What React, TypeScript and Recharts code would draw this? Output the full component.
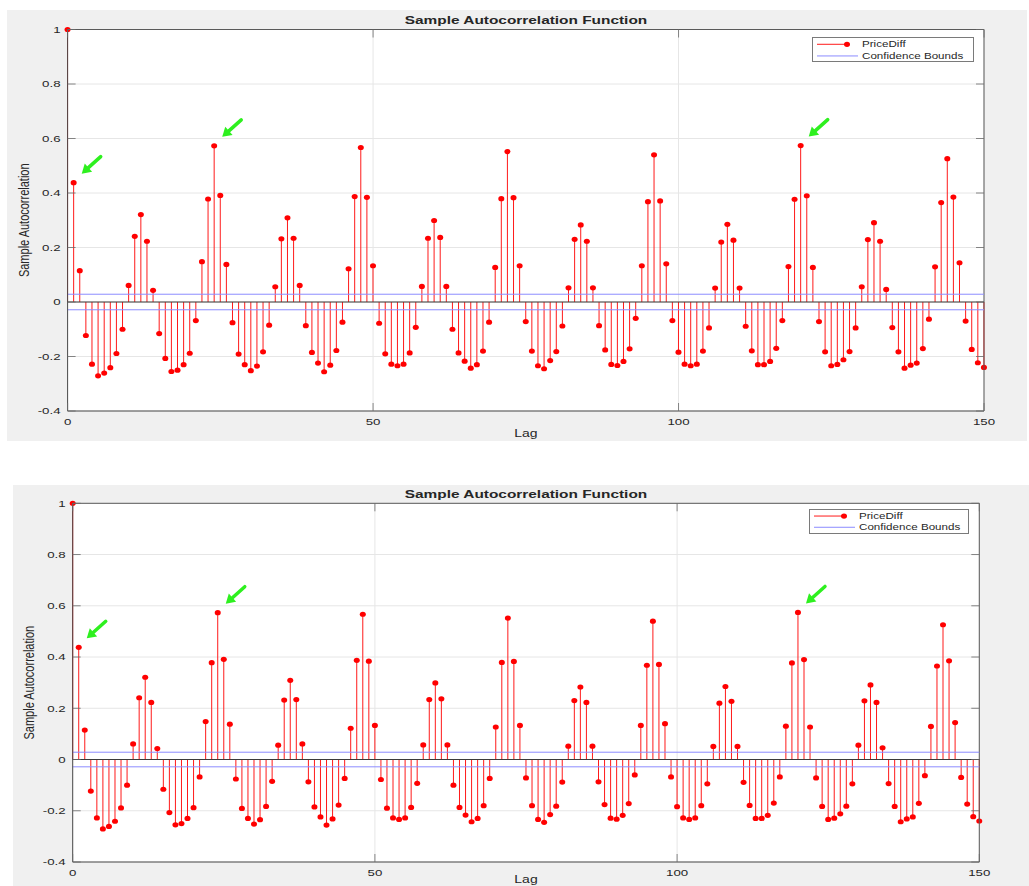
import React from 'react';
import {
  ComposedChart,
  Bar,
  XAxis,
  YAxis,
  CartesianGrid,
  ReferenceLine,
  ReferenceDot,
  Legend,
} from 'recharts';

// ---------- data ----------
const acfValues: number[] = [
  1, 0.438, 0.115, -0.123, -0.228, -0.271, -0.261, -0.241, -0.189, -0.1,
  0.061, 0.241, 0.321, 0.223, 0.043, -0.116, -0.207, -0.255, -0.25, -0.23,
  -0.188, -0.068, 0.148, 0.378, 0.573, 0.391, 0.138, -0.076, -0.191, -0.23,
  -0.252, -0.235, -0.183, -0.085, 0.056, 0.232, 0.309, 0.234, 0.061, -0.087,
  -0.185, -0.224, -0.256, -0.232, -0.178, -0.074, 0.122, 0.387, 0.567, 0.384,
  0.133, -0.078, -0.19, -0.228, -0.234, -0.228, -0.187, -0.093, 0.057, 0.234,
  0.299, 0.237, 0.057, -0.1, -0.187, -0.217, -0.243, -0.23, -0.18, -0.074,
  0.127, 0.379, 0.552, 0.383, 0.133, -0.072, -0.18, -0.234, -0.245, -0.215,
  -0.182, -0.088, 0.052, 0.23, 0.283, 0.223, 0.052, -0.087, -0.176, -0.229,
  -0.233, -0.218, -0.172, -0.06, 0.133, 0.368, 0.54, 0.371, 0.14, -0.068,
  -0.184, -0.228, -0.234, -0.228, -0.18, -0.095, 0.051, 0.22, 0.285, 0.227,
  0.051, -0.089, -0.179, -0.23, -0.23, -0.218, -0.17, -0.068, 0.13, 0.377,
  0.574, 0.39, 0.127, -0.072, -0.183, -0.234, -0.229, -0.212, -0.182, -0.095,
  0.056, 0.229, 0.291, 0.223, 0.046, -0.094, -0.183, -0.243, -0.232, -0.224,
  -0.171, -0.063, 0.129, 0.365, 0.526, 0.385, 0.144, -0.07, -0.174, -0.223,
  -0.24,
];
const lags: number[] = acfValues.map((_, i) => i);
const confidenceBound = 0.0285;
const xTicks = [0, 50, 100, 150];
const xTickLabels = ['0', '50', '100', '150'];
const yTicks = [-0.4, -0.2, 0, 0.2, 0.4, 0.6, 0.8, 1];
const yTickLabels = ['-0.4', '-0.2', '0', '0.2', '0.4', '0.6', '0.8', '1'];
const highlightedLags = [1, 24, 120];

const TITLE = 'Sample Autocorrelation Function';
const X_LABEL = 'Lag';
const Y_LABEL = 'Sample Autocorrelation';
const SERIES_NAME = 'PriceDiff';
const BOUNDS_NAME = 'Confidence Bounds';

const data = lags.map((lag, i) => ({ lag, acf: acfValues[i] }));

// ---------- styles ----------
const FONT = '"Liberation Sans", Arial, Helvetica, sans-serif';
const INK = '#262626';
const SX = 1.4;
const STEM = '#ff1a1a';
const DOT = '#ff0000';
const BOUND = '#8c8cff';
const ARROW = '#2ef01f';
const GRID = '#e6e6e6';
const FIG_BG = '#f0f0f0';
const TICK_LEN = 8;
const X_TICK_MARGIN = 11;
const Y_TICK_MARGIN = 7;

type PanelCfg = {
  left: number;
  top: number;
  width: number;
  height: number;
  chartHeight: number;
  margin: { top: number; right: number; bottom: number; left: number };
  yAxisWidth: number;
  xAxisHeight: number;
  xLabelOffset: number;
  legend: { left: number; top: number; width: number; height: number };
};

const topPanel: PanelCfg = {
  left: 7,
  top: 10,
  width: 1020,
  height: 431,
  chartHeight: 431,
  margin: { top: 19.5, right: 43, bottom: 0, left: 5.6 },
  yAxisWidth: 55,
  xAxisHeight: 30,
  xLabelOffset: 23,
  legend: { left: 804.7, top: 26.7, width: 162, height: 25.6 },
};

const bottomPanel: PanelCfg = {
  left: 13,
  top: 485,
  width: 1016,
  height: 401,
  chartHeight: 407,
  margin: { top: 18.3, right: 49.7, bottom: 0, left: 4.7 },
  yAxisWidth: 55,
  xAxisHeight: 30,
  xLabelOffset: 17.5,
  legend: { left: 796, top: 24.3, width: 160, height: 24.7 },
};

// ---------- shapes ----------
const StemShape = (props: any) => {
  const { x, y, width, height, payload } = props;
  if (x == null || y == null || payload == null) return null;
  const cx = x + (width || 0) / 2;
  const a = y;
  const b = y + (height || 0);
  const top = Math.min(a, b);
  const bottom = Math.max(a, b);
  const positive = payload.acf >= 0;
  const vy = positive ? top : bottom;
  const by = positive ? bottom : top;
  return (
    <g>
      <line x1={cx} x2={cx} y1={by} y2={vy} stroke={STEM} strokeWidth={1} />
      <ellipse cx={cx} cy={vy} rx={3} ry={2.6} fill={DOT} />
    </g>
  );
};

const ArrowMark = (p: any) => {
  const { cx, cy } = p;
  if (cx == null || cy == null) return null;
  const tipX = cx + 8;
  const tipY = cy - 9;
  const tailX = cx + 27;
  const tailY = cy - 26;
  const dx = tipX - tailX;
  const dy = tipY - tailY;
  const len = Math.hypot(dx, dy);
  const ux = dx / len;
  const uy = dy / len;
  const headLen = 9;
  const headW = 5.5;
  const bx = tipX - ux * headLen;
  const by = tipY - uy * headLen;
  const px = -uy;
  const py = ux;
  return (
    <g>
      <line x1={tailX} y1={tailY} x2={bx} y2={by} stroke={ARROW} strokeWidth={3.5} strokeLinecap="round" />
      <polygon
        points={`${tipX},${tipY} ${bx + px * headW},${by + py * headW} ${bx - px * headW},${by - py * headW}`}
        fill={ARROW}
      />
    </g>
  );
};

const LegendBox = ({ w, h }: { w: number; h: number }) => {
  const r1 = h * 0.285 - 1;
  const r2 = h * 0.74 - 1;
  return (
    <div
      style={{
        width: w,
        height: h,
        boxSizing: 'border-box',
        border: '1px solid #7a7a7a',
        background: '#ffffff',
      }}
    >
      <svg width={w - 2} height={h - 2} style={{ display: 'block' }}>
        <line x1={4} x2={34} y1={r1} y2={r1} stroke={STEM} strokeWidth={1} />
        <ellipse cx={34} cy={r1} rx={3} ry={2.6} fill={DOT} />
        <text
          transform={`translate(49,${r1}) scale(${SX},1)`}
          dominantBaseline="central"
          fontSize={8.3}
          fontFamily={FONT}
          fill={INK}
        >
          {SERIES_NAME}
        </text>
        <line x1={4} x2={45} y1={r2} y2={r2} stroke={BOUND} strokeWidth={1} />
        <text
          transform={`translate(49,${r2}) scale(${SX},1)`}
          dominantBaseline="central"
          fontSize={8.3}
          fontFamily={FONT}
          fill={INK}
        >
          {BOUNDS_NAME}
        </text>
      </svg>
    </div>
  );
};

function AcfPanel({ cfg }: { cfg: PanelCfg }) {
  const plotLeft = cfg.margin.left + cfg.yAxisWidth;
  const plotRight = cfg.width - cfg.margin.right;
  const plotTop = cfg.margin.top;
  const plotBottom = cfg.chartHeight - cfg.margin.bottom - cfg.xAxisHeight;
  const plotW = plotRight - plotLeft;
  const plotCx = (plotLeft + plotRight) / 2;
  const plotCy = (plotTop + plotBottom) / 2;

  const XTick = (p: any) => {
    const axisY = p.y - X_TICK_MARGIN;
    const idx = xTicks.indexOf(p.payload.value);
    const label = idx >= 0 ? xTickLabels[idx] : String(p.payload.value);
    return (
      <g>
        <line x1={p.x} x2={p.x} y1={axisY} y2={axisY - TICK_LEN} stroke="#6a6a6a" strokeWidth={0.8} />
        <line x1={p.x} x2={p.x} y1={plotTop} y2={plotTop + TICK_LEN} stroke="#6a6a6a" strokeWidth={0.8} />
        <text
          transform={`translate(${p.x},${p.y}) scale(${SX},1)`}
          textAnchor="middle"
          dominantBaseline="central"
          fontSize={9.5}
          fontFamily={FONT}
          fill={INK}
        >
          {label}
        </text>
      </g>
    );
  };

  const YTick = (p: any) => {
    const axisX = p.x + Y_TICK_MARGIN;
    const idx = yTicks.indexOf(p.payload.value);
    const label = idx >= 0 ? yTickLabels[idx] : String(p.payload.value);
    return (
      <g>
        <line x1={axisX} x2={axisX + TICK_LEN} y1={p.y} y2={p.y} stroke="#6a6a6a" strokeWidth={0.8} />
        <line x1={axisX + plotW} x2={axisX + plotW - TICK_LEN} y1={p.y} y2={p.y} stroke="#6a6a6a" strokeWidth={0.8} />
        <text
          transform={`translate(${p.x},${p.y}) scale(${SX},1)`}
          textAnchor="end"
          dominantBaseline="central"
          fontSize={9.5}
          fontFamily={FONT}
          fill={INK}
        >
          {label}
        </text>
      </g>
    );
  };

  const renderXLabel = () => (
    <text
      transform={`translate(${plotCx},${plotBottom + cfg.xLabelOffset}) scale(${SX},1)`}
      textAnchor="middle"
      dominantBaseline="central"
      fontSize={10}
      fontFamily={FONT}
      fill={INK}
    >
      {X_LABEL}
    </text>
  );

  const renderYLabel = () => (
    <text
      transform={`translate(${plotLeft - 43.5},${plotCy}) scale(${SX},1) rotate(-90)`}
      textAnchor="middle"
      dominantBaseline="central"
      fontSize={11}
      fontFamily={FONT}
      fill={INK}
    >
      {Y_LABEL}
    </text>
  );

  return (
    <div
      style={{
        position: 'absolute',
        left: cfg.left,
        top: cfg.top,
        width: cfg.width,
        height: cfg.height,
        background: FIG_BG,
        overflow: 'hidden',
      }}
    >
      <ComposedChart width={cfg.width} height={cfg.chartHeight} data={data} margin={cfg.margin}>
        <CartesianGrid stroke={GRID} fill="#ffffff" />
        <XAxis
          dataKey="lag"
          type="number"
          domain={[0, 150]}
          ticks={xTicks}
          height={cfg.xAxisHeight}
          tickSize={0}
          tickMargin={X_TICK_MARGIN}
          tick={XTick}
          axisLine={{ stroke: '#4a4a4a' }}
          tickLine={false}
          interval={0}
          label={renderXLabel}
        />
        <YAxis
          type="number"
          domain={[-0.4, 1]}
          ticks={yTicks}
          width={cfg.yAxisWidth}
          tickSize={0}
          tickMargin={Y_TICK_MARGIN}
          tick={YTick}
          axisLine={{ stroke: '#4a4a4a' }}
          tickLine={false}
          interval={0}
          label={renderYLabel}
        />
        <ReferenceLine y={1} stroke="#5a5a5a" strokeWidth={1} />
        <ReferenceLine x={150} stroke="#5a5a5a" strokeWidth={1} />
        <ReferenceLine y={confidenceBound} stroke={BOUND} strokeWidth={1} />
        <ReferenceLine y={-confidenceBound} stroke={BOUND} strokeWidth={1} />
        <ReferenceLine y={0} stroke="#3a3a3a" strokeWidth={1} />
        <Bar
          dataKey="acf"
          name={SERIES_NAME}
          shape={StemShape}
          barSize={2}
          isAnimationActive={false}
        />
        {highlightedLags.map((lag) => (
          <ReferenceDot key={lag} x={lag} y={acfValues[lag]} r={0} shape={ArrowMark} />
        ))}
        <Legend
          layout="vertical"
          align="center"
          verticalAlign="middle"
          wrapperStyle={{
            left: cfg.legend.left,
            top: cfg.legend.top,
            width: cfg.legend.width,
            height: cfg.legend.height,
          }}
          content={() => <LegendBox w={cfg.legend.width} h={cfg.legend.height} />}
        />
      </ComposedChart>
      <div
        style={{
          position: 'absolute',
          left: plotCx,
          top: plotTop - 9.5,
          transform: `translate(-50%, -50%) scaleX(${SX})`,
          fontFamily: FONT,
          fontWeight: 'bold',
          fontSize: 11,
          lineHeight: '12px',
          color: INK,
          whiteSpace: 'nowrap',
        }}
      >
        {TITLE}
      </div>
    </div>
  );
}

export default function App() {
  return (
    <div
      style={{
        position: 'absolute',
        left: 0,
        top: 0,
        width: 1029,
        height: 886,
        background: '#ffffff',
        overflow: 'hidden',
      }}
    >
      <AcfPanel cfg={topPanel} />
      <AcfPanel cfg={bottomPanel} />
    </div>
  );
}
